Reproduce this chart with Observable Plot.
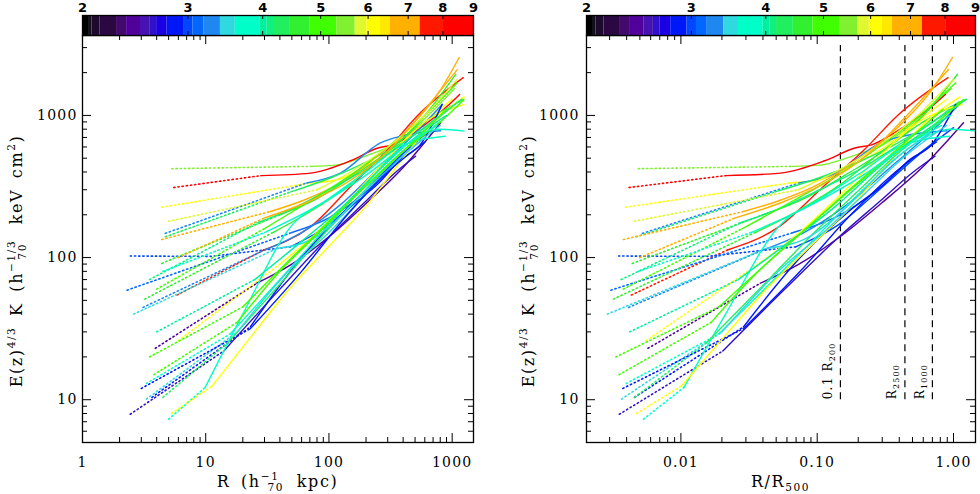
<!DOCTYPE html>
<html>
<head>
<meta charset="utf-8">
<script src="https://cdn.jsdelivr.net/npm/d3@7"></script>
<script src="https://cdn.jsdelivr.net/npm/@observablehq/plot@0.6"></script>
<style>
  body { margin: 0; background: #fff; }
  #fig { position: relative; width: 980px; height: 494px; }
  #fig svg { position: absolute; overflow: visible; }
</style>
</head>
<body>
<div id="fig"></div>
<script>
// colour table: temperature bin edges (keV) and the colours between them
const tempEdges = [2.047, 2.074, 2.14, 2.28, 2.37, 2.50, 2.59, 2.66, 2.77, 2.95, 3.06, 3.19, 3.40, 3.60, 3.96, 4.07, 4.17, 4.45, 4.80, 5.32, 5.71, 5.97, 6.28, 6.53, 7.33, 8.02];
const tempColors = ["#000000", "#12101a", "#1e0a2e", "#2c0842", "#420a6c", "#52009c", "#4612b2", "#3010c8", "#1a00e2", "#0018f8", "#0048ff", "#0068ff", "#1e88f0", "#30d8e0", "#00ffc8", "#00f0a0", "#10f080", "#20f060", "#30f030", "#40ff00", "#80f030", "#e0f830", "#ffff00", "#ffe800", "#ffb000", "#ff1800", "#ff0000"];
const cbTicks = [2, 3, 4, 5, 6, 7, 8, 9];

// clusters: temperature (keV) and R500 (kpc)
const clusterT = [5.5, 8.5, 7.6, 6.1, 3.3, 4.3, 6.9, 3.0, 4.5, 3.1, 4.6, 3.25, 2.4, 6.0, 3.7, 2.6, 2.9, 3.8, 6.0, 4.2, 3.5, 4.1, 5.0, 3.4, 2.8, 5.8, 4.9, 7.0, 4.0, 5.2, 3.6];
const clusterR500 = [1090, 1320, 1350, 1120, 900, 1000, 1160, 700, 1000, 750, 1000, 750, 680, 1080, 830, 690, 800, 940, 1120, 980, 900, 960, 1060, 900, 800, 1100, 1050, 1200, 950, 1080, 920];

// entropy profiles: radius (kpc) and E(z)^4/3 K (keV cm2); the first dottedPoints[i] points are the dotted part
const profileR = [
  [5.3, 71, 110, 200, 350, 600, 1050],
  [5.5, 28, 71, 150, 250, 335, 490, 915, 1150],
  [5.85, 29.6, 71, 150, 300, 525, 1230],
  [4.4, 71, 117, 200, 350, 600, 1000],
  [4.7, 66, 124, 262, 382, 805],
  [4.7, 49, 100, 200, 400, 700, 1100],
  [4.4, 33.5, 60, 120, 250, 450, 800, 1140],
  [2.44, 11, 48.6, 100, 200, 400, 700],
  [4.4, 40, 80, 160, 320, 600, 1070],
  [2.3, 50, 100, 200, 350, 600],
  [3.2, 35, 70, 150, 300, 600, 1230],
  [3.1, 30, 60, 120, 250, 500, 830],
  [3.9, 26, 50, 100, 200, 400, 805],
  [6.0, 40, 80, 150, 300, 600, 1250],
  [3.3, 15.8, 40, 100, 200, 400, 800, 1250],
  [2.44, 14, 40, 100, 200, 350, 505],
  [3.66, 23, 60, 141, 250, 382, 550, 830],
  [5.0, 9.9, 20, 49, 100, 200, 400, 880],
  [5.3, 11.3, 25, 49, 100, 200, 400, 700, 1250],
  [4.5, 15, 40, 100, 200, 400, 800],
  [3.3, 18, 50, 100, 200, 400, 800],
  [3.5, 26, 50, 100, 200, 400, 800, 1200],
  [4.0, 30, 70, 150, 300, 600, 1100],
  [2.6, 38, 71, 150, 300, 600],
  [3.0, 23, 60, 141, 300, 600],
  [5.0, 80, 150, 300, 600, 1100],
  [3.5, 20, 50, 100, 200, 400, 800, 1250],
  [6.0, 30, 70, 150, 300, 600, 1100],
  [4.0, 25, 60, 130, 260, 500, 900],
  [3.8, 18, 40, 90, 200, 400, 900],
  [4.5, 30, 80, 200, 400, 750]
];
const profileK = [
  [422, 438, 445, 520, 640, 950, 1550],
  [311, 377, 393, 480, 590, 624, 757, 1163, 1406],
  [54.5, 113, 165, 316, 575, 1000, 1846],
  [226, 335, 353, 440, 600, 900, 1300],
  [148, 335, 393, 642, 714, 780],
  [140, 290, 360, 470, 650, 900, 1250],
  [134, 211, 250, 330, 520, 820, 1500, 2557],
  [102.5, 102, 119, 170, 300, 540, 820],
  [91, 200, 260, 380, 580, 1000, 1950],
  [59, 150, 190, 290, 470, 700],
  [51, 150, 210, 330, 560, 900, 1297],
  [44.6, 113, 150, 230, 420, 750, 1196],
  [23, 66, 90, 140, 240, 430, 888],
  [26, 90, 150, 260, 500, 900, 1196],
  [13, 29, 70, 170, 330, 600, 800, 775],
  [7.9, 22, 60, 140, 250, 400, 516],
  [10.4, 32.5, 100, 217, 330, 489, 620, 1196],
  [7.3, 12.2, 40, 165, 260, 400, 620, 714],
  [8.0, 12.5, 30, 62, 120, 230, 500, 900, 1350],
  [10.4, 25, 65, 160, 300, 560, 900],
  [10.1, 30, 85, 150, 280, 520, 850],
  [70, 175, 220, 300, 420, 640, 1000, 1300],
  [60, 160, 250, 380, 600, 1000, 1700],
  [40, 116, 133, 230, 450, 750],
  [12, 31.6, 80, 200, 400, 650],
  [180, 300, 400, 600, 1000, 1800],
  [20, 45, 100, 180, 320, 560, 900, 1297],
  [100, 190, 250, 350, 560, 1100, 2100],
  [30, 70, 130, 230, 420, 700, 1000],
  [15, 35, 80, 160, 320, 560, 1100],
  [80, 150, 230, 380, 600, 850]
];
const dottedPoints = [2, 2, 2, 2, 2, 2, 2, 3, 2, 2, 2, 2, 2, 2, 2, 2, 2, 2, 2, 2, 2, 2, 2, 2, 2, 2, 2, 2, 2, 2, 2];

// axes
const xTicksKpc = [1, 10, 100, 1000];
const xLabelsKpc = ["1", "10", "100", "1000"];
const xTicksScaled = [0.01, 0.1, 1];
const xLabelsScaled = ["0.01", "0.10", "1.00"];
const yTicks = [10, 100, 1000];
const yLabels = ["10", "100", "1000"];

// characteristic radii in units of R500
const markerR = [0.148, 0.44, 0.70];
const markerNames = [["0.1 R", "200"], ["R", "2500"], ["R", "1000"]];
const markerK = [10, 3100];

const W = 490, H = 494, MT = 35, MB = 52;
const FONT = "DejaVu Serif";
const colorOpts = {type: "threshold", domain: tempEdges, range: tempColors};

function profileRows(norm, solid) {
  const out = [];
  profileR.forEach((rs, i) => {
    const nd = dottedPoints[i];
    rs.forEach((r, j) => {
      if (solid ? j >= nd - 1 : j < nd) {
        out.push({id: i, t: clusterT[i], x: norm ? r / clusterR500[i] : r, k: profileK[i][j]});
      }
    });
  });
  return out;
}

// rich text (super/subscripts) placed with tspans
function richText(svg, x, y, rotate, parts, size, anchor) {
  const t = d3.select(svg).append("text")
    .attr("transform", `translate(${x},${y}) rotate(${rotate})`)
    .attr("text-anchor", anchor || "middle")
    .attr("font-family", FONT)
    .attr("font-size", size)
    .attr("fill", "black");
  let off = 0;
  parts.forEach(p => {
    const o = p.o || 0;
    const ts = t.append("tspan").text(p.s).attr("dy", o - off);
    if (p.dx) ts.attr("dx", p.dx);
    if (o !== 0) ts.attr("font-size", size * 0.66);
    off = o;
  });
  return t;
}

function panel(cfg) {
  const fig = document.getElementById("fig");
  const innerW = W - cfg.ml - cfg.mr, innerH = H - MT - MB;
  const xAll = d3.scaleLog().domain(cfg.xDomain).ticks();
  const xMinor = xAll.filter(d => !cfg.xTicks.some(m => Math.abs(m - d) / m < 1e-6));
  const yAll = d3.scaleLog().domain([5, 3650]).ticks();
  const yMinor = yAll.filter(d => !yTicks.includes(d));
  const marks = [
    Plot.line(profileRows(cfg.norm, false), {x: "x", y: "k", z: "id", stroke: "t", strokeWidth: 1.6, strokeDasharray: "1.3,2.9", clip: true}),
    Plot.line(profileRows(cfg.norm, true), {x: "x", y: "k", z: "id", stroke: "t", strokeWidth: 1.4, curve: "monotone-x", clip: true}),
    Plot.ruleX(xMinor, {insetTop: innerH - 5}),
    Plot.ruleX(xMinor, {insetBottom: innerH - 5}),
    Plot.ruleX(cfg.xTicks, {insetTop: innerH - 9}),
    Plot.ruleX(cfg.xTicks, {insetBottom: innerH - 9}),
    Plot.ruleY(yMinor, {insetRight: innerW - 5}),
    Plot.ruleY(yMinor, {insetLeft: innerW - 5}),
    Plot.ruleY(yTicks, {insetRight: innerW - 9}),
    Plot.ruleY(yTicks, {insetLeft: innerW - 9}),
    Plot.axisX(cfg.xTicks, {tickSize: 0, tickPadding: 15, tickFormat: d => cfg.xLabels[cfg.xTicks.indexOf(d)], label: null}),
    Plot.axisY(yTicks, {tickSize: 0, tickPadding: cfg.yPad, tickFormat: d => yLabels[yTicks.indexOf(d)], label: null}),
    Plot.frame({stroke: "black", strokeWidth: 1.3})
  ];
  if (cfg.norm) {
    marks.unshift(Plot.ruleX(markerR, {y1: markerK[0], y2: markerK[1], stroke: "black", strokeWidth: 1.2, strokeDasharray: "7,5"}));
  }
  const chart = Plot.plot({
    width: W, height: H,
    marginLeft: cfg.ml, marginRight: cfg.mr, marginTop: MT, marginBottom: MB,
    style: {fontFamily: FONT, fontSize: "14px", color: "black", background: "transparent", letterSpacing: "1.2px"},
    x: {type: "log", domain: cfg.xDomain},
    y: {type: "log", domain: [5, 3650]},
    color: colorOpts,
    marks
  });
  chart.style.left = cfg.left + "px";
  chart.style.top = "0px";
  fig.appendChild(chart);

  // axis titles
  richText(chart, cfg.titleX, 261, -90, [
    {s: "E(z)"}, {s: "4/3", o: -7}, {s: " K (h"}, {s: "\u22121/3", o: -7}, {s: "70", o: 4, dx: -20}, {s: " keV cm", dx: 8}, {s: "2", o: -7}, {s: ")"}
  ], 16, "middle").attr("letter-spacing", "1.6px").attr("word-spacing", "4px");
  if (cfg.norm) {
    richText(chart, cfg.ml + innerW / 2, 487, 0, [{s: "R/R"}, {s: "500", o: 4}], 16).attr("letter-spacing", "1.6px");
    const sx = chart.scale("x"), sy = chart.scale("y");
    markerR.forEach((v, i) => {
      richText(chart, sx.apply(v) - 8, sy.apply(markerK[0]), -90,
        [{s: markerNames[i][0]}, {s: markerNames[i][1], o: 3}], 12, "start");
    });
  } else {
    richText(chart, cfg.ml + innerW / 2, 487, 0, [
      {s: "R (h"}, {s: "\u22121", o: -7}, {s: "70", o: 4, dx: -12}, {s: " kpc)", dx: 2}
    ], 16).attr("letter-spacing", "1.6px").attr("word-spacing", "4px");
  }

  // colour bar above the panel
  const bins = [2, ...tempEdges].map((lo, i) => ({lo, hi: i < tempEdges.length ? tempEdges[i] : 9}));
  const bar = Plot.plot({
    width: W, height: 36,
    marginLeft: cfg.ml, marginRight: cfg.mr, marginTop: 15, marginBottom: 1,
    style: {fontFamily: "DejaVu Sans", fontSize: "13px", fontWeight: "bold", color: "black", background: "transparent"},
    x: {type: "log", domain: [2, 9], axis: null},
    color: colorOpts,
    marks: [
      Plot.rect(bins, {x1: "lo", x2: "hi", fill: "lo"}),
      Plot.ruleX(cbTicks, {insetTop: 16, stroke: "black"}),
      Plot.ruleX(cbTicks, {insetBottom: 16, stroke: "black"}),
      Plot.text(cbTicks, {x: d => d, text: d => String(d), frameAnchor: "top", lineAnchor: "bottom", dy: -4, fontWeight: "bold"}),
      Plot.frame({stroke: "black", strokeWidth: 1.3})
    ]
  });
  bar.style.left = cfg.left + "px";
  bar.style.top = "0px";
  fig.appendChild(bar);
}

panel({left: 0, ml: 82, mr: 17, xDomain: [1, 1490], xTicks: xTicksKpc, xLabels: xLabelsKpc, norm: false, yPad: 5, titleX: 22});
panel({left: 490, ml: 96, mr: 5, xDomain: [0.00203, 1.45], xTicks: xTicksScaled, xLabels: xLabelsScaled, norm: true, yPad: 7, titleX: 44});
</script>
</body>
</html>
